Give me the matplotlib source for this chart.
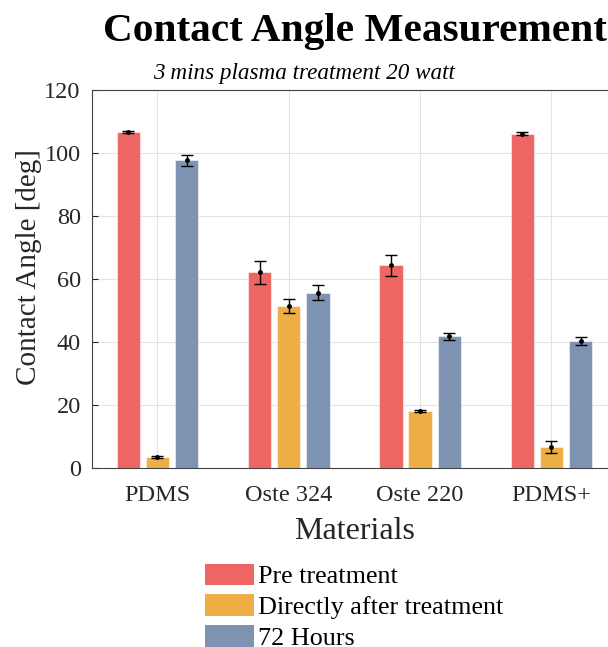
import numpy as np
import matplotlib.pyplot as plt
from matplotlib.patches import Patch

plt.rcParams['font.family'] = ['Liberation Serif', 'DejaVu Serif']

# Datos
materials = ["PDMS", "Oste 324", "Oste 220", "PDMS+"]
series = ["Pre treatment", "Directly after treatment", "72 Hours"]
pre = [106.6, 62.1, 64.3, 106.1]
pre_err = [0.3, 3.6, 3.3, 0.4]
after = [3.4, 51.5, 18.1, 6.6]
after_err = [0.3, 2.2, 0.3, 2.0]
h72 = [97.7, 55.7, 41.8, 40.3]
h72_err = [1.7, 2.5, 1.1, 1.4]

colors = ['#EE6663', '#EDAE45', '#7E92B2']
values = [pre, after, h72]
errors = [pre_err, after_err, h72_err]

fig = plt.figure(figsize=(6.08, 6.47), dpi=100)
ax = fig.add_axes([0.151, 0.2767, 0.864, 0.5843])

x = np.arange(1, len(materials) + 1)
offset = 0.222
width = 0.178
for i, (vals, errs, c) in enumerate(zip(values, errors, colors)):
    pos = x + (i - 1) * offset
    ax.bar(pos, vals, width, color=c, edgecolor=(1, 1, 1, 0.5), linewidth=0.8, zorder=2)
    ax.errorbar(pos, vals, yerr=errs, fmt='.', color='black', markersize=5,
                elinewidth=1, capsize=4, capthick=1, zorder=3)

ax.set_xlim(0.5, 4.5)
ax.set_ylim(0, 120)
ax.set_yticks(np.arange(0, 121, 20))
ax.set_xticks(x)
ax.set_xticklabels(materials)
ax.grid(True, color='#e3e3e3', linewidth=0.8, zorder=0)
ax.set_axisbelow(True)
ax.tick_params(direction='in', length=4, labelsize=17.5, colors='#262626')
ax.tick_params(axis='y', pad=8)
ax.tick_params(axis='x', pad=12)
for s in ax.spines.values():
    s.set_color('#444444')
    s.set_linewidth(0.8)

ax.set_ylabel("Contact Angle [deg]", fontsize=21, color='#262626')
ax.yaxis.set_label_coords(-0.095, 0.532)
ax.set_xlabel("Materials", fontsize=23, color='#262626', labelpad=8)
fig.text(0.584, 0.952, "Contact Angle Measurement", fontsize=29.7, fontweight='bold',
         ha='center', va='center')
fig.text(0.5, 0.887, "3 mins plasma treatment 20 watt", fontsize=16.7, style='italic',
         ha='center', va='center')

handles = [Patch(facecolor=c, edgecolor='none') for c in colors]
fig.legend(handles, series, loc='upper left', bbox_to_anchor=(0.337, 0.129),
           frameon=False, fontsize=18.8, handlelength=1.88, handleheight=0.88,
           handletextpad=0.15, labelspacing=0.24, borderaxespad=0, borderpad=0)

plt.savefig("out.png", dpi=100)
